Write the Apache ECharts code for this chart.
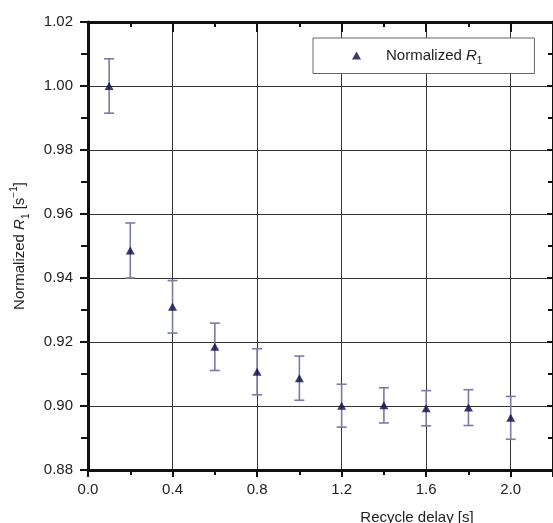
<!DOCTYPE html>
<html>
<head>
<meta charset="utf-8">
<script src="https://cdn.jsdelivr.net/npm/echarts@6/dist/echarts.min.js"></script>
<style>
html,body{margin:0;padding:0;background:#fff;}
#chart{width:553px;height:523px;}
</style>
</head>
<body>
<div id="chart"></div>
<script>
// Data
const delays = [0.1, 0.2, 0.4, 0.6, 0.8, 1.0, 1.2, 1.4, 1.6, 1.8, 2.0];
const normR1 = [1.000, 0.9486, 0.9310, 0.9185, 0.9107, 0.9087, 0.9001, 0.9002, 0.8993, 0.8995, 0.8963];
const errR1 = [0.0085, 0.0086, 0.0082, 0.0074, 0.0072, 0.0069, 0.0067, 0.0055, 0.0055, 0.0056, 0.0067];

const FONT = 'Liberation Sans, Arial, sans-serif';
const points = delays.map((x, i) => [x, normR1[i]]);
const bars = delays.map((x, i) => [x, normR1[i] - errR1[i], normR1[i] + errR1[i]]);

const chart = echarts.init(document.getElementById('chart'), null, {renderer: 'canvas'});

const richBase = {
  a: {fontSize: 15, fontFamily: FONT, color: '#222', lineHeight: 22},
  i: {fontSize: 15, fontFamily: FONT, fontStyle: 'italic', color: '#222', lineHeight: 22},
  sub: {fontSize: 10, fontFamily: FONT, color: '#222', lineHeight: 12, verticalAlign: 'bottom'},
  sup: {fontSize: 10, fontFamily: FONT, color: '#222', lineHeight: 12, verticalAlign: 'top'},
  sp: {width: 20, lineHeight: 22}
};

const option = {
  backgroundColor: '#fff',
  animation: false,
  grid: {left: 88, right: 0, top: 22, bottom: 53, containLabel: false, outerBoundsMode: 'none'},
  legend: {
    left: 313, top: 38,
    orient: 'horizontal',
    padding: [10, 52, 7, 39],
    borderColor: '#666', borderWidth: 1, borderRadius: 0,
    backgroundColor: '#fff',
    itemWidth: 9, itemHeight: 8,
    data: [{name: 'Normalized R1', icon: 'triangle'}],
    formatter: function () { return '{sp|}{a|Normalized }{i|R}{sub|1}'; },
    textStyle: {rich: richBase}
  },
  xAxis: [{
    type: 'value', min: 0, max: 2.2, interval: 0.4,
    position: 'bottom',
    name: 'Recycle delay [s]',
    nameLocation: 'middle', nameGap: 40,
    nameTextStyle: {fontSize: 15, fontFamily: FONT, color: '#222', padding: [0, 0, 0, 193]},
    axisLine: {show: true, lineStyle: {color: '#111', width: 3}},
    axisTick: {show: true, inside: false, length: 7, lineStyle: {color: '#111', width: 2}},
    minorTick: {show: true, splitNumber: 2, length: 5, lineStyle: {color: '#111', width: 2}},
    axisLabel: {fontSize: 15, fontFamily: FONT, color: '#222', margin: 12, showMaxLabel: false,
      formatter: v => v.toFixed(1)},
    splitLine: {show: true, lineStyle: {color: '#333', width: 1}}
  }, {
    type: 'value', min: 0, max: 2.2, interval: 0.4,
    position: 'top',
    axisLine: {show: true, onZero: false, lineStyle: {color: '#111', width: 3}},
    axisTick: {show: true, inside: true, length: 10, lineStyle: {color: '#111', width: 2}},
    minorTick: {show: true, splitNumber: 2, length: 5, lineStyle: {color: '#111', width: 2}},
    axisLabel: {show: false},
    splitLine: {show: false}
  }],
  yAxis: [{
    type: 'value', min: 0.88, max: 1.02, interval: 0.02,
    position: 'left',
    name: '{a|Normalized }{i|R}{sub|1}{a| [s}{sup|−1}{a|]}',
    nameLocation: 'middle', nameGap: 57, nameRotate: 90,
    nameTextStyle: {rich: richBase},
    axisLine: {show: true, onZero: false, lineStyle: {color: '#111', width: 3}},
    axisTick: {show: true, inside: false, length: 8, lineStyle: {color: '#111', width: 2}},
    minorTick: {show: true, splitNumber: 2, length: 7, lineStyle: {color: '#111', width: 2}},
    axisLabel: {fontSize: 15, fontFamily: FONT, color: '#222', margin: 15,
      formatter: v => v.toFixed(2)},
    splitLine: {show: true, lineStyle: {color: '#333', width: 1}}
  }, {
    type: 'value', min: 0.88, max: 1.02, interval: 0.02,
    position: 'right',
    axisLine: {show: true, onZero: false, lineStyle: {color: '#111', width: 3}},
    axisTick: {show: true, inside: true, length: 6, lineStyle: {color: '#111', width: 2}},
    minorTick: {show: true, splitNumber: 2, length: 5, lineStyle: {color: '#111', width: 2}},
    axisLabel: {show: false},
    splitLine: {show: false}
  }],
  series: [{
    type: 'custom',
    name: 'err',
    xAxisIndex: 0, yAxisIndex: 0,
    data: bars,
    z: 2,
    renderItem: function (params, api) {
      const x = api.value(0);
      const lo = api.coord([x, api.value(1)]);
      const hi = api.coord([x, api.value(2)]);
      const hw = 5;
      const style = {stroke: '#7a7aa6', lineWidth: 1.6, fill: null};
      return {
        type: 'group',
        children: [
          {type: 'line', shape: {x1: lo[0], y1: lo[1], x2: hi[0], y2: hi[1]}, style: style},
          {type: 'line', shape: {x1: lo[0] - hw, y1: lo[1], x2: lo[0] + hw, y2: lo[1]}, style: style},
          {type: 'line', shape: {x1: hi[0] - hw, y1: hi[1], x2: hi[0] + hw, y2: hi[1]}, style: style}
        ]
      };
    }
  }, {
    type: 'scatter',
    name: 'Normalized R1',
    xAxisIndex: 0, yAxisIndex: 0,
    data: points,
    symbol: 'triangle',
    symbolSize: [9, 8],
    z: 3,
    itemStyle: {color: '#0a0a48'}
  }]
};
chart.setOption(option);
</script>
</body>
</html>
